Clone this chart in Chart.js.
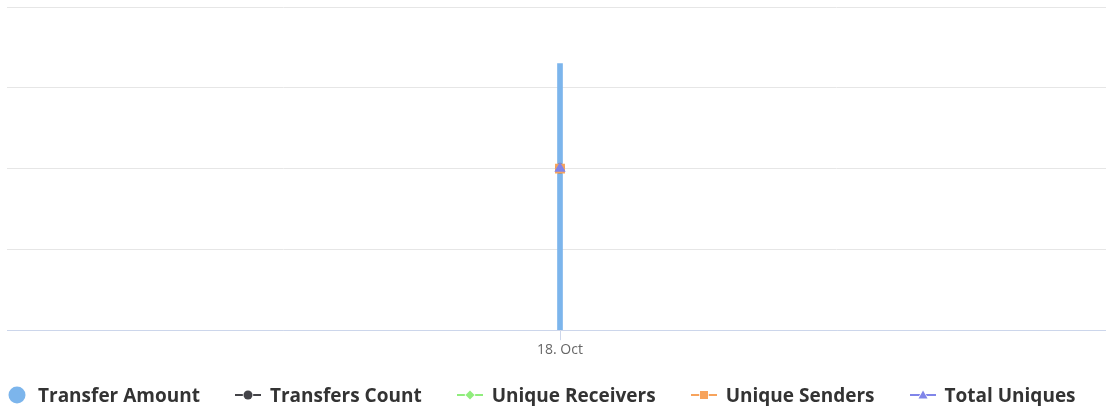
<!DOCTYPE html>
<html>
<head>
<meta charset="utf-8">
<script src="https://cdn.jsdelivr.net/npm/chart.js@4.4.0/dist/chart.umd.min.js"></script>
<style>
  html, body { margin: 0; padding: 0; background: #fff; overflow: hidden; }
  #wrap { position: relative; width: 1106px; height: 406px; overflow: hidden; }
  #chart { position: absolute; left: 0; top: 0; }
  #legend { position: absolute; left: 8px; top: 382px; display: flex; align-items: center; white-space: nowrap;
            font: 700 19px "Open Sans", sans-serif; color: #333; line-height: 26px; }
  .item { display: flex; align-items: center; margin-right: 34px; }
  .item canvas { margin-right: 8px; }
</style>
</head>
<body>
<div id="wrap">
  <canvas id="chart" width="1120" height="406"></canvas>
  <div id="legend"></div>
</div>
<script>
// ─── Data ─────────────────────────────────────────────────────────────────────
const categories = ['18. Oct'];
const seriesNames = ['Transfer Amount', 'Transfers Count', 'Unique Receivers', 'Unique Senders', 'Total Uniques'];
const transferAmount = [3.3];
const transfersCount = [2];
const uniqueReceivers = [2];
const uniqueSenders = [2];
const totalUniques = [2];
const yTicks = [0, 1, 2, 3, 4];

// ─── Styles ───────────────────────────────────────────────────────────────────
const colors = ['#7cb5ec', '#434348', '#90ed7d', '#f7a35c', '#8085e9'];
const markers = ['circle', 'circle', 'rectRot', 'rect', 'triangle'];
// radii chosen so every marker fills roughly a 10px box
const markerRadius = [0, 5, 5, 7, 6.5];

const lineSeries = [transfersCount, uniqueReceivers, uniqueSenders, totalUniques];

// lower order is drawn on top: last series on top, bar underneath
const datasets = [{
    type: 'bar',
    label: seriesNames[0],
    data: transferAmount,
    backgroundColor: colors[0],
    barThickness: 5,
    order: 4
}].concat(lineSeries.map((vals, i) => ({
    type: 'line',
    label: seriesNames[i + 1],
    data: vals,
    borderColor: colors[i + 1],
    backgroundColor: colors[i + 1],
    borderWidth: 2,
    pointStyle: markers[i + 1],
    pointRadius: markerRadius[i + 1],
    pointBorderWidth: 0,
    showLine: false,
    order: 3 - i
})));

new Chart(document.getElementById('chart'), {
    data: { labels: categories, datasets },
    options: {
        responsive: false,
        devicePixelRatio: 1,
        animation: false,
        layout: { padding: { left: 3, top: 5, right: 0, bottom: 47 } },
        plugins: { legend: { display: false }, tooltip: { enabled: false } },
        scales: {
            x: {
                offset: true,
                grid: { offset: false, drawOnChartArea: false, drawTicks: true, tickLength: 10, color: '#ccd6eb' },
                border: { color: '#ccd6eb', width: 1 },
                ticks: { color: '#666', font: { family: 'Open Sans', size: 14 }, padding: 1 }
            },
            y: {
                min: yTicks[0],
                max: yTicks[yTicks.length - 1],
                afterBuildTicks: s => { s.ticks = yTicks.map(v => ({ value: v })); },
                ticks: { display: false },
                grid: { color: '#e6e6e6', drawTicks: false, lineWidth: 1 },
                border: { display: false }
            }
        }
    }
});

// ─── Legend ───────────────────────────────────────────────────────────────────
function legendSymbol(i) {
    const c = document.createElement('canvas');
    const ctx = c.getContext('2d');
    if (i === 0) {
        c.width = 18; c.height = 18;
        ctx.fillStyle = colors[0];
        ctx.beginPath(); ctx.arc(9, 9, 8.5, 0, Math.PI * 2); ctx.fill();
        c.style.marginRight = '12px';
        return c;
    }
    c.width = 28; c.height = 18;
    ctx.strokeStyle = colors[i];
    ctx.lineWidth = 2;
    ctx.beginPath(); ctx.moveTo(1, 9); ctx.lineTo(27, 9); ctx.stroke();
    ctx.fillStyle = colors[i];
    ctx.strokeStyle = '#fff';
    ctx.lineWidth = 1.5;
    ctx.beginPath();
    const r = 4.5, cx = 14;
    if (markers[i] === 'circle') ctx.arc(cx, 9, r, 0, Math.PI * 2);
    else if (markers[i] === 'rectRot') { ctx.moveTo(cx, 9 - r); ctx.lineTo(cx + r, 9); ctx.lineTo(cx, 9 + r); ctx.lineTo(cx - r, 9); ctx.closePath(); }
    else if (markers[i] === 'rect') ctx.rect(cx - r + 0.5, 9 - r + 0.5, 2 * r - 1, 2 * r - 1);
    else { ctx.moveTo(cx, 9 - r); ctx.lineTo(cx + r, 9 + r - 1); ctx.lineTo(cx - r, 9 + r - 1); ctx.closePath(); }
    ctx.stroke();
    ctx.fill();
    return c;
}

const legend = document.getElementById('legend');
seriesNames.forEach((name, i) => {
    const item = document.createElement('div');
    item.className = 'item';
    item.appendChild(legendSymbol(i));
    const t = document.createElement('span');
    t.textContent = name;
    item.appendChild(t);
    legend.appendChild(item);
});
</script>
</body>
</html>
